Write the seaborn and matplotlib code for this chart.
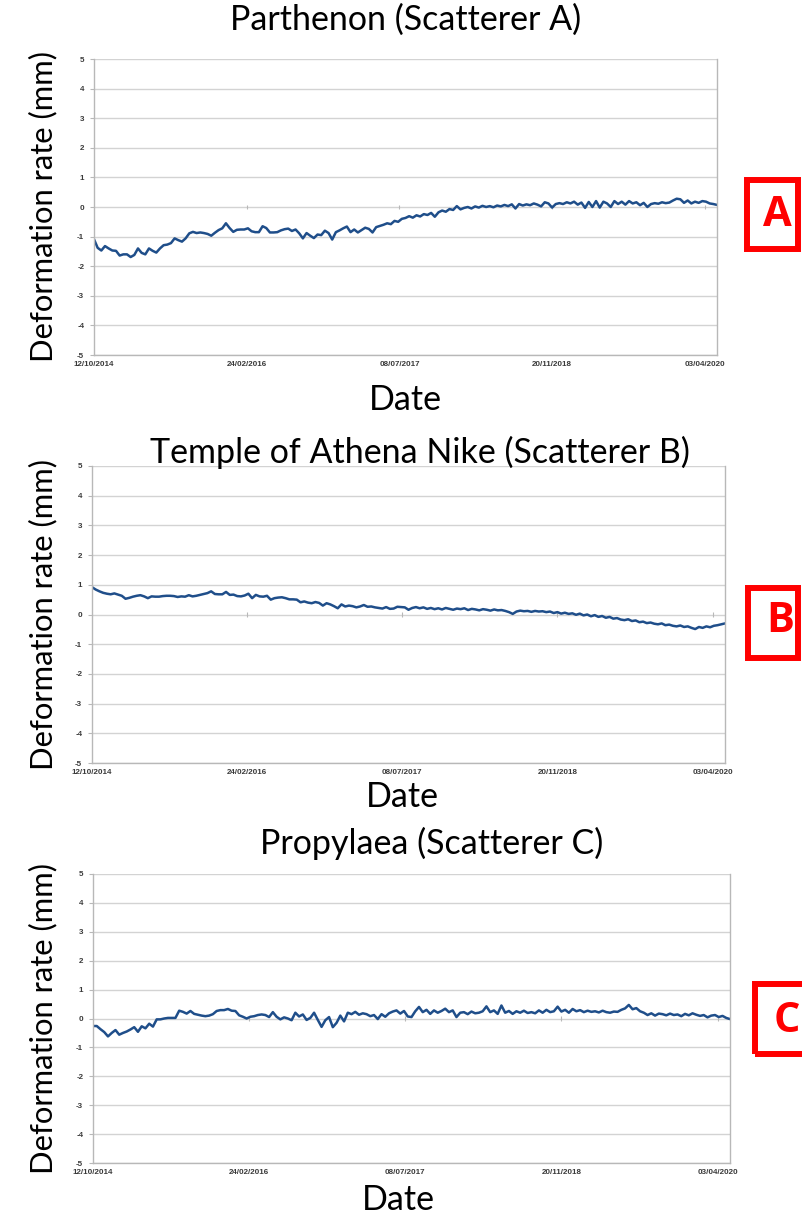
import numpy as np
import pandas as pd
import matplotlib
matplotlib.use("Agg")
import matplotlib.pyplot as plt
import seaborn as sns
from matplotlib.patches import Rectangle

# ---------------- data ----------------
start_date = "2014-10-12"
revisit_days = 12
n_obs = 171
dates = pd.date_range(start_date, periods=n_obs, freq=f"{revisit_days}D")

parthenon = [
    -1.09, -1.38, -1.47, -1.32, -1.40, -1.47, -1.48, -1.64, -1.60, -1.60,
    -1.69, -1.62, -1.40, -1.55, -1.60, -1.40, -1.48, -1.54, -1.40, -1.29,
    -1.27, -1.22, -1.06, -1.12, -1.17, -1.06, -0.89, -0.84, -0.88, -0.86,
    -0.88, -0.91, -0.97, -0.87, -0.78, -0.72, -0.55, -0.71, -0.84, -0.77,
    -0.76, -0.76, -0.72, -0.82, -0.85, -0.85, -0.65, -0.71, -0.86, -0.86,
    -0.85, -0.79, -0.75, -0.73, -0.81, -0.76, -0.89, -1.06, -0.88, -0.97,
    -1.05, -0.93, -0.95, -0.80, -0.88, -1.10, -0.85, -0.79, -0.72, -0.66,
    -0.85, -0.76, -0.86, -0.78, -0.70, -0.74, -0.86, -0.68, -0.64, -0.60,
    -0.55, -0.58, -0.47, -0.50, -0.40, -0.37, -0.31, -0.36, -0.28, -0.32,
    -0.24, -0.27, -0.20, -0.33, -0.18, -0.12, -0.16, -0.07, -0.10, 0.03,
    -0.08, -0.03, 0.00, -0.05, 0.02, -0.02, 0.04, 0.00, 0.03, -0.01,
    0.05, 0.02, 0.07, 0.03, 0.09, -0.05, 0.10, 0.05, 0.09, 0.06,
    0.12, 0.08, 0.02, 0.16, 0.12, -0.02, 0.10, 0.13, 0.10, 0.16,
    0.12, 0.18, 0.08, 0.15, -0.03, 0.17, 0.00, 0.20, -0.02, 0.18,
    0.12, 0.00, 0.20, 0.10, 0.18, 0.08, 0.20, 0.12, 0.16, 0.06,
    0.14, 0.00, 0.10, 0.13, 0.11, 0.16, 0.13, 0.15, 0.22, 0.28,
    0.26, 0.14, 0.22, 0.12, 0.18, 0.14, 0.20, 0.18, 0.12, 0.10,
    0.07,
]

athena_nike = [
    0.92, 0.84, 0.78, 0.73, 0.70, 0.68, 0.71, 0.67, 0.63, 0.53,
    0.56, 0.60, 0.63, 0.65, 0.61, 0.55, 0.61, 0.60, 0.60, 0.62,
    0.63, 0.63, 0.62, 0.59, 0.61, 0.60, 0.65, 0.61, 0.63, 0.66,
    0.69, 0.72, 0.78, 0.69, 0.68, 0.68, 0.76, 0.66, 0.67, 0.62,
    0.61, 0.64, 0.70, 0.55, 0.66, 0.61, 0.60, 0.63, 0.50, 0.55,
    0.57, 0.58, 0.55, 0.51, 0.51, 0.50, 0.41, 0.44, 0.40, 0.38,
    0.42, 0.39, 0.30, 0.38, 0.34, 0.28, 0.21, 0.34, 0.27, 0.30,
    0.28, 0.24, 0.27, 0.32, 0.26, 0.27, 0.24, 0.22, 0.20, 0.25,
    0.19, 0.20, 0.26, 0.25, 0.24, 0.16, 0.22, 0.25, 0.21, 0.24,
    0.19, 0.22, 0.18, 0.21, 0.17, 0.22, 0.19, 0.16, 0.20, 0.18,
    0.21, 0.15, 0.19, 0.17, 0.14, 0.18, 0.16, 0.13, 0.17, 0.14,
    0.15, 0.12, 0.08, 0.02, 0.10, 0.13, 0.11, 0.12, 0.09, 0.12,
    0.10, 0.11, 0.08, 0.10, 0.05, 0.08, 0.03, 0.06, 0.02, 0.04,
    -0.01, 0.03, -0.03, 0.00, -0.06, -0.02, -0.08, -0.05, -0.11, -0.08,
    -0.14, -0.12, -0.17, -0.19, -0.16, -0.22, -0.20, -0.26, -0.24, -0.29,
    -0.27, -0.31, -0.33, -0.30, -0.36, -0.34, -0.38, -0.40, -0.37, -0.42,
    -0.40, -0.45, -0.49, -0.42, -0.45, -0.40, -0.43, -0.38, -0.36, -0.33,
    -0.30,
]

propylaea = [
    -0.26, -0.26, -0.37, -0.47, -0.62, -0.50, -0.40, -0.56, -0.50, -0.45,
    -0.38, -0.30, -0.46, -0.27, -0.34, -0.18, -0.28, -0.03, -0.03, 0.00,
    0.02, 0.02, 0.02, 0.27, 0.23, 0.17, 0.26, 0.16, 0.13, 0.10,
    0.08, 0.10, 0.15, 0.26, 0.29, 0.29, 0.33, 0.27, 0.26, 0.11,
    0.06, 0.00, 0.06, 0.08, 0.12, 0.14, 0.12, 0.05, 0.22, 0.06,
    -0.03, 0.04, 0.00, -0.06, 0.20, 0.07, 0.14, -0.05, 0.02, 0.20,
    -0.05, -0.29, -0.06, 0.05, -0.30, -0.15, 0.10, -0.10, 0.20, 0.15,
    0.23, 0.13, 0.18, 0.15, 0.08, 0.12, -0.02, 0.15, 0.06, 0.18,
    0.24, 0.28, 0.17, 0.26, 0.07, 0.05, 0.25, 0.40, 0.22, 0.30,
    0.16, 0.28, 0.20, 0.26, 0.34, 0.22, 0.28, 0.05, 0.20, 0.22,
    0.15, 0.24, 0.18, 0.20, 0.25, 0.42, 0.22, 0.28, 0.16, 0.45,
    0.20, 0.26, 0.16, 0.25, 0.20, 0.27, 0.19, 0.22, 0.18, 0.28,
    0.20, 0.30, 0.22, 0.25, 0.41, 0.24, 0.30, 0.20, 0.33, 0.25,
    0.29, 0.22, 0.27, 0.23, 0.25, 0.21, 0.27, 0.22, 0.20, 0.24,
    0.23, 0.30, 0.35, 0.47, 0.32, 0.36, 0.25, 0.20, 0.12, 0.18,
    0.10, 0.17, 0.15, 0.11, 0.17, 0.12, 0.14, 0.08, 0.16, 0.11,
    0.18, 0.13, 0.09, 0.12, 0.04, 0.10, 0.12, 0.05, 0.09, 0.02,
    -0.02,
]

titles = ["Parthenon (Scatterer A)",
          "Temple of Athena Nike (Scatterer B)",
          "Propylaea (Scatterer C)"]
letters = ["A", "B", "C"]
tick_dates = ["2014-10-12", "2016-02-24", "2017-07-08", "2018-11-20", "2020-04-03"]
tick_labels = ["12/10/2014", "24/02/2016", "08/07/2017", "20/11/2018", "03/04/2020"]
y_ticks = [-5, -4, -3, -2, -1, 0, 1, 2, 3, 4, 5]
y_label = "Deformation rate (mm)"
x_label = "Date"

series = [parthenon, athena_nike, propylaea]
for s in series:
    assert len(s) == n_obs, len(s)

# ---------------- style ----------------
sns.set_theme(style="white")
plt.rcParams["font.family"] = ["Lato", "DejaVu Sans"]

W, H = 802, 1215
fig = plt.figure(figsize=(W / 100, H / 100), dpi=100)

# axes boxes in pixels: left, right, top, bottom
boxes = [(94, 717, 59, 355), (92, 725, 466, 763), (93, 730, 874, 1163)]
title_pos = [(0.500, 1.132), (0.518, 1.047), (0.532, 1.107)]
xlabel_pos = [(0.500, -0.152), (0.491, -0.114), (0.479, -0.128)]

line_color = "#1f4e8a"
grid_color = "#d3d3d3"
spine_color = "#b8b8b8"
tick_text = "#3a3a3a"

tick_dt = pd.to_datetime(tick_dates)

for k, (vals, box) in enumerate(zip(series, boxes)):
    l, r, t, b = box
    ax = fig.add_axes([l / W, 1 - b / H, (r - l) / W, (b - t) / H])
    df = pd.DataFrame({"date": dates, "value": vals})
    sns.lineplot(data=df, x="date", y="value", ax=ax, color=line_color,
                 linewidth=1.8)
    ax.set_xlim(dates[0], dates[-1])
    ax.set_ylim(-5, 5)
    ax.set_yticks(y_ticks)
    ax.set_yticklabels([str(v) for v in y_ticks], fontsize=5.8,
                       color=tick_text, family=["Liberation Sans"],
                       fontweight="bold")
    ax.set_xticks(tick_dt)
    ax.set_xticklabels(tick_labels, fontsize=5.8, color=tick_text,
                       family=["Liberation Sans"], fontweight="bold")
    ax.tick_params(axis="y", length=3, width=0.8, color=spine_color, pad=4,
                   left=True)
    ax.tick_params(axis="x", length=0, pad=4)
    ax.yaxis.grid(True, color=grid_color, linewidth=1.0)
    ax.xaxis.grid(False)
    ax.set_axisbelow(True)
    for side in ["left", "bottom", "right"]:
        ax.spines[side].set_color(spine_color)
        ax.spines[side].set_linewidth(1.0)
        ax.spines[side].set_visible(True)
    ax.spines["top"].set_visible(False)
    # small tick marks where the date axis crosses zero
    ax.vlines(tick_dt[1:], -0.07, 0.07, color=spine_color, linewidth=0.8,
              zorder=1)

    ax.set_ylabel(y_label, fontsize=22.3, color="black", va="center")
    ax.yaxis.set_label_coords((43 - l) / (r - l), 0.5)
    ax.set_xlabel(x_label, fontsize=24.5, color="black", va="center")
    ax.xaxis.set_label_coords(*xlabel_pos[k])
    ax.text(title_pos[k][0], title_pos[k][1], titles[k], transform=ax.transAxes,
            ha="center", va="center", fontsize=24.5, color="black")

# red label boxes (pixels: x0, x1, y0, y1, letter centre)
red_boxes = [(747, 798, 180, 249, 777, 215),
             (748, 798, 588, 658, 780, 622),
             (755, 812, 984, 1054, 787, 1022)]
for letter, (x0, x1, y0, y1, cx, cy) in zip(letters, red_boxes):
    fig.add_artist(Rectangle((x0 / W, 1 - y1 / H), (x1 - x0) / W, (y1 - y0) / H,
                             transform=fig.transFigure, fill=False,
                             edgecolor="#ff0000", linewidth=4.3))
    fig.text(cx / W, 1 - cy / H, letter, ha="center", va="center",
             fontsize=30, fontweight="bold", color="#ff0000",
             family=["Open Sans", "DejaVu Sans"])

fig.savefig("out.png", dpi=100)
